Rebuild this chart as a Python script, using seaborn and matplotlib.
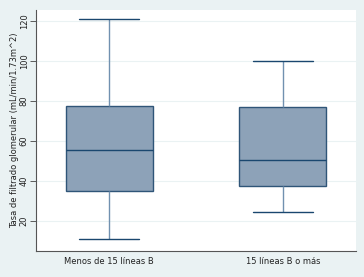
import matplotlib
matplotlib.use("Agg")
import matplotlib.pyplot as plt
import seaborn as sns
import pandas as pd

categories = ["Menos de 15 líneas B", "15 líneas B o más"]
# five-number summaries (min, Q1, median, Q3, max)
group1 = [11, 35, 55.5, 77.5, 121]
group2 = [24.5, 37.5, 50.5, 77, 100]
yticks = [20, 40, 60, 80, 100, 120]
ylabel = "Tasa de filtrado glomerular (mL/min/1.73m^2)"

df = pd.DataFrame({
    "grupo": [categories[0]] * len(group1) + [categories[1]] * len(group2),
    "valor": group1 + group2,
})

sns.set_theme(style="white")
plt.rcParams['font.family'] = ['DejaVu Sans']

fig = plt.figure(figsize=(3.64, 2.77), dpi=100)
fig.patch.set_facecolor("#EAF2F3")
ax = fig.add_axes([0.099, 0.094, 0.879, 0.87])
ax.set_facecolor("white")

for y in yticks:
    ax.axhline(y, color="#EAF2F3", lw=0.8, zorder=0)

sns.boxplot(data=df, x="grupo", y="valor", order=categories, ax=ax,
            width=0.5, whis=1.5, fliersize=0,
            boxprops=dict(facecolor="#8DA2B8", edgecolor="#2F5578", linewidth=1.0),
            medianprops=dict(color="#1A476F", linewidth=1.0),
            whiskerprops=dict(color="#7191B0", linewidth=1.0),
            capprops=dict(color="#1A476F", linewidth=1.0),
            showcaps=True)

# widen whisker caps
for line in ax.lines:
    xd = list(line.get_xdata())
    if len(xd) == 2 and abs(abs(xd[1] - xd[0]) - 0.25) < 0.01:
        c = (xd[0] + xd[1]) / 2
        line.set_xdata([c - 0.172, c + 0.172])

ax.set_xlim(-0.42, 1.42)
ax.set_ylim(5, 125.5)
ax.set_yticks(yticks)
ax.set_yticklabels([str(v) for v in yticks], rotation=90, va="center", fontsize=6, color="#222222")
ax.tick_params(axis="y", left=True, length=4, width=0.6, color="#444444", pad=1.2)
ax.tick_params(axis="x", bottom=False, length=0, labelsize=6, pad=4.5, colors="#222222")
ax.set_xlabel("")
ax.set_ylabel(ylabel, fontsize=6, color="#222222", va="center")
ax.yaxis.set_label_coords(-0.068, 0.5)
for s in ["top", "right"]:
    ax.spines[s].set_visible(False)
for s in ["left", "bottom"]:
    ax.spines[s].set_color("#555555")
    ax.spines[s].set_linewidth(0.8)

fig.savefig("out.png", dpi=100, facecolor=fig.get_facecolor())
